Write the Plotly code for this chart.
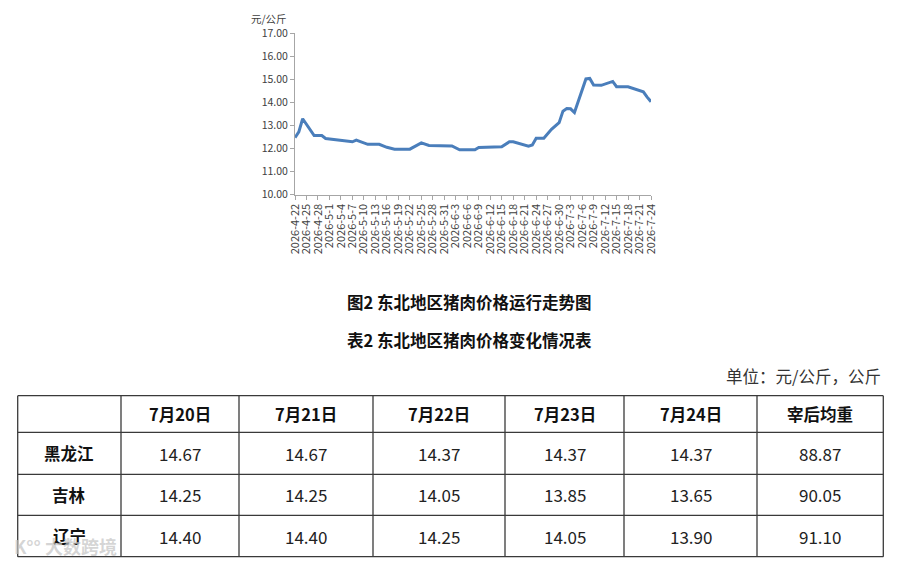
import pandas as pd
import plotly.graph_objects as go

# line chart: dates where the line changes direction, and the price read there
price_dates = ["2026-4-22", "2026-4-23", "2026-4-24", "2026-4-27", "2026-4-29", "2026-4-30",
               "2026-5-7", "2026-5-8", "2026-5-11", "2026-5-14", "2026-5-16", "2026-5-18",
               "2026-5-22", "2026-5-25", "2026-5-27", "2026-6-2", "2026-6-4", "2026-6-8",
               "2026-6-9", "2026-6-15", "2026-6-17", "2026-6-18", "2026-6-22", "2026-6-23",
               "2026-6-24", "2026-6-26", "2026-6-28", "2026-6-30", "2026-7-1", "2026-7-2",
               "2026-7-3", "2026-7-4", "2026-7-7", "2026-7-8", "2026-7-9", "2026-7-11",
               "2026-7-14", "2026-7-15", "2026-7-18", "2026-7-21", "2026-7-22", "2026-7-23",
               "2026-7-24"]
price_values = [12.47, 12.72, 13.29, 12.56, 12.56, 12.43,
                12.29, 12.36, 12.18, 12.18, 12.05, 11.97,
                11.97, 12.24, 12.13, 12.11, 11.94, 11.94,
                12.04, 12.07, 12.29, 12.29, 12.10, 12.15,
                12.44, 12.44, 12.83, 13.12, 13.62, 13.73,
                13.72, 13.56, 15.02, 15.04, 14.75, 14.74,
                14.91, 14.68, 14.68, 14.50, 14.46, 14.23,
                14.03]

tick_labels = ["2026-4-22", "2026-4-25", "2026-4-28", "2026-5-1", "2026-5-4", "2026-5-7",
               "2026-5-10", "2026-5-13", "2026-5-16", "2026-5-19", "2026-5-22", "2026-5-25",
               "2026-5-28", "2026-5-31", "2026-6-3", "2026-6-6", "2026-6-9", "2026-6-12",
               "2026-6-15", "2026-6-18", "2026-6-21", "2026-6-24", "2026-6-27", "2026-6-30",
               "2026-7-3", "2026-7-6", "2026-7-9", "2026-7-12", "2026-7-15", "2026-7-18",
               "2026-7-21", "2026-7-24"]
y_ticks = [10, 11, 12, 13, 14, 15, 16, 17]

# table
table_header = ["", "7月20日", "7月21日", "7月22日", "7月23日", "7月24日", "宰后均重"]
regions = ["黑龙江", "吉林", "辽宁"]
jul20 = ["14.67", "14.25", "14.40"]
jul21 = ["14.67", "14.25", "14.40"]
jul22 = ["14.37", "14.05", "14.25"]
jul23 = ["14.37", "13.85", "14.05"]
jul24 = ["14.37", "13.65", "13.90"]
avg_weight = ["88.87", "90.05", "91.10"]

# the page body has an 8px margin, so the figure starts 8px in from the corner
PAD = 8
W, H = 900 - PAD, 564 - PAD
FONT = "Noto Sans CJK SC"

def px_x(x):
    return (x - PAD) / W

def px_y(y):
    return 1 - (y - PAD) / H

x_dates = pd.to_datetime(price_dates, format="%Y-%m-%d")
tick_dates = pd.to_datetime(tick_labels, format="%Y-%m-%d")

fig = go.Figure()
fig.add_trace(go.Scatter(x=x_dates, y=price_values, mode="lines",
                         line=dict(color="#4A7EBB", width=3), showlegend=False,
                         hoverinfo="skip"))

# table grid on its own axes (units = pixels from the table's top-left corner)
tbl_left, tbl_top = 17.7, 395.7
col_edges = [0, 103.3, 221.3, 355.3, 487.3, 606.3, 739.3, 865.6]
row_edges = [0, 36.6, 78.6, 119.6, 161.0]
edge_pad = 1.5  # keep the outer border from being clipped

grid = dict(color="#3a3a3a", width=1.3)
for xe in col_edges:
    fig.add_shape(type="line", xref="x2", yref="y2", x0=xe, x1=xe,
                  y0=row_edges[0], y1=row_edges[-1], line=grid)
for ye in row_edges:
    fig.add_shape(type="line", xref="x2", yref="y2", x0=col_edges[0], x1=col_edges[-1],
                  y0=ye, y1=ye, line=grid)

columns = [regions, jul20, jul21, jul22, jul23, jul24, avg_weight]
for c, head in enumerate(table_header):
    cx = (col_edges[c] + col_edges[c + 1]) / 2
    if head:
        fig.add_annotation(text="<b>%s</b>" % head, x=cx, y=(row_edges[0] + row_edges[1]) / 2,
                           xref="x2", yref="y2", showarrow=False,
                           font=dict(family=FONT, size=16.5, color="#111111"))
    for r, val in enumerate(columns[c]):
        cy = (row_edges[r + 1] + row_edges[r + 2]) / 2
        bold = c == 0
        fig.add_annotation(text="<b>%s</b>" % val if bold else val, x=cx, y=cy,
                           xref="x2", yref="y2", showarrow=False,
                           font=dict(family=FONT, size=16.5 if bold else 17,
                                     color="#111111" if bold else "#222222"))

fig.update_layout(
    width=W, height=H,
    margin=dict(l=0, r=0, t=0, b=0, autoexpand=False),
    paper_bgcolor="white", plot_bgcolor="white",
    font=dict(family=FONT, color="#404040"),
    xaxis=dict(domain=[px_x(295), px_x(651)], type="date", automargin=False,
               range=[tick_dates[0], tick_dates[-1]],
               tickmode="array", tickvals=tick_dates, ticktext=tick_labels,
               tickangle=-90, tickfont=dict(size=11, color="#404040"),
               showgrid=False, zeroline=False,
               showline=True, linecolor="#A6A6A6", linewidth=1,
               ticks="outside", ticklen=4, tickcolor="#A6A6A6"),
    yaxis=dict(domain=[px_y(194.5), px_y(33.3)], range=[10, 17], automargin=False,
               tickmode="array", tickvals=y_ticks,
               ticktext=["%.2f" % v for v in y_ticks],
               tickfont=dict(size=10.5, color="#404040"),
               showgrid=False, zeroline=False,
               showline=True, linecolor="#A6A6A6", linewidth=1,
               ticks="outside", ticklen=4, tickcolor="#A6A6A6"),
    xaxis2=dict(domain=[px_x(tbl_left - edge_pad), px_x(tbl_left + col_edges[-1] + edge_pad)],
                range=[-edge_pad, col_edges[-1] + edge_pad],
                visible=False, automargin=False, fixedrange=True),
    yaxis2=dict(domain=[px_y(tbl_top + row_edges[-1] + edge_pad), px_y(tbl_top - edge_pad)],
                range=[row_edges[-1] + edge_pad, -edge_pad],
                visible=False, automargin=False, fixedrange=True),
)

notes = [
    dict(text="元/公斤", x=249, y=18, size=10.5, anchor="left", bold=False, color="#404040"),
    dict(text="图2 东北地区猪肉价格运行走势图", x=469, y=302, size=16.5, anchor="center", bold=True, color="#111111"),
    dict(text="表2 东北地区猪肉价格变化情况表", x=469, y=340, size=16.5, anchor="center", bold=True, color="#111111"),
    dict(text="单位：元/公斤，公斤", x=883, y=376, size=16.5, anchor="right", bold=False, color="#333333"),
]
for n in notes:
    fig.add_annotation(text="<b>%s</b>" % n["text"] if n["bold"] else n["text"],
                       x=px_x(n["x"]), y=px_y(n["y"]), xref="paper", yref="paper",
                       xanchor=n["anchor"], yanchor="middle", showarrow=False,
                       font=dict(family=FONT, size=n["size"], color=n["color"]))

# faint watermark in the lower left corner
fig.add_annotation(text="<b>K°° 大数跨境</b>", x=px_x(12), y=px_y(546), xref="paper", yref="paper",
                   xanchor="left", yanchor="middle", showarrow=False,
                   font=dict(family=FONT, size=18, color="rgba(195,195,195,0.7)"))

fig.write_html("out.html")
